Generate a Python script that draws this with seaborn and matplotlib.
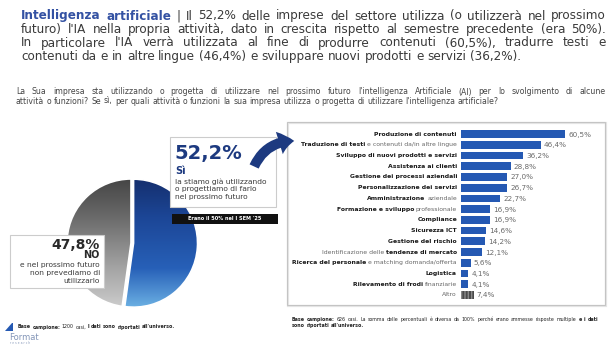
import numpy as np
import pandas as pd
import matplotlib
matplotlib.use("Agg")
import matplotlib.pyplot as plt
import seaborn as sns
from matplotlib.patches import Rectangle, FancyArrowPatch, Polygon
from matplotlib.colors import LinearSegmentedColormap

# ---------------- data ----------------
pie_labels = ["Sì", "No"]
pie_values = [52.2, 47.8]
pie_value_text = ["52,2%", "47,8%"]

bar_categories = [
    "Produzione di contenuti",
    "Traduzione di testi e contenuti da/in altre lingue",
    "Sviluppo di nuovi prodotti e servizi",
    "Assistenza ai clienti",
    "Gestione dei processi aziendali",
    "Personalizzazione dei servizi",
    "Amministrazione aziendale",
    "Formazione e sviluppo professionale",
    "Compliance",
    "Sicurezza ICT",
    "Gestione del rischio",
    "Identificazione delle tendenze di mercato",
    "Ricerca del personale e matching domanda/offerta",
    "Logistica",
    "Rilevamento di frodi finanziarie",
    "Altro",
]
bar_values = [60.5, 46.4, 36.2, 28.8, 27.0, 26.7, 22.7, 16.9, 16.9, 14.6, 14.2, 12.1, 5.6, 4.1, 4.1, 7.4]
bar_value_labels = ["60,5%", "46,4%", "36,2%", "28,8%", "27,0%", "26,7%", "22,7%", "16,9%",
                    "16,9%", "14,6%", "14,2%", "12,1%", "5,6%", "4,1%", "4,1%", "7,4%"]
# label parts: (text, bold)
bar_label_parts = [
    [("Produzione di contenuti", True)],
    [("Traduzione di testi", True), ("e contenuti da/in altre lingue", False)],
    [("Sviluppo di nuovi prodotti e servizi", True)],
    [("Assistenza ai clienti", True)],
    [("Gestione dei processi aziendali", True)],
    [("Personalizzazione dei servizi", True)],
    [("Amministrazione", True), ("aziendale", False)],
    [("Formazione e sviluppo", True), ("professionale", False)],
    [("Compliance", True)],
    [("Sicurezza ICT", True)],
    [("Gestione del rischio", True)],
    [("Identificazione delle", False), ("tendenze di mercato", True)],
    [("Ricerca del personale", True), ("e matching domanda/offerta", False)],
    [("Logistica", True)],
    [("Rilevamento di frodi", True), ("finanziarie", False)],
    [("Altro", False)],
]

BLUE = "#2559b3"
NAVY = "#1d3a80"
TXT = "#3a3a3a"

sns.set_theme(style="white")
plt.rcParams['font.family'] = ['DejaVu Sans']

W, H = 611, 346
fig = plt.figure(figsize=(W / 100, H / 100), dpi=100)
fig.patch.set_facecolor("white")
R = fig.canvas.get_renderer()


def px_axes(l, t, w, h, **kw):
    return fig.add_axes([l / W, 1 - (t + h) / H, w / W, h / H], **kw)


# ---------------- pie ----------------
cx, cy, rad = 131, 243, 64
half = rad * 1.1
axp = px_axes(cx - half, cy - half, 2 * half, 2 * half, zorder=2)
wedges, _ = axp.pie(pie_values, colors=[BLUE, "#777777"], startangle=90, counterclock=False,
                    explode=[0.04, 0.0], wedgeprops=dict(edgecolor="white", linewidth=1.2))
cmaps = [
    LinearSegmentedColormap.from_list("b", ["#122760", "#1c4696", "#2760b8", "#80c8f0"]),
    LinearSegmentedColormap.from_list("g", ["#383838", "#6a6a6a", "#a4a4a4", "#d8d8d8"]),
]
grad = np.linspace(0, 1, 256).reshape(-1, 1)
for w, cm in zip(wedges, cmaps):
    im = axp.imshow(grad, extent=[-1.2, 1.2, -1.2, 1.2], origin="upper", cmap=cm,
                    aspect="auto", zorder=1)
    im.set_clip_path(w)
    w.set_zorder(2)
    w.set_facecolor("none")
axp.set_aspect("equal")
axp.set_xlim(-1.1, 1.1)
axp.set_ylim(-1.1, 1.1)
axp.axis("off")

# ---------------- bars ----------------
row0, step = 134.0, 10.73
n = len(bar_values)
T = row0 - step / 2
Bh = step * n
bx0, bx1 = 461, 605
scale = 1.72
axb = px_axes(bx0, T, bx1 - bx0, Bh, zorder=3)
df = pd.DataFrame({"cat": bar_categories, "val": bar_values})
colors = [BLUE] * (n - 1) + ["#4a4a4a"]
sns.barplot(data=df, x="val", y="cat", hue="cat", palette=colors, legend=False,
            width=0.72, saturation=1, ax=axb, orient="h")
for i, p in enumerate(axb.patches):
    p.set_linewidth(0)
    if i == n - 1:
        p.set_hatch("|||||")
        p.set_edgecolor("#8a8a8a")
axb.set_xlim(0, (bx1 - bx0) / scale)
axb.set_ylim(n - 0.5, -0.5)
axb.axis("off")
for i, (v, lab) in enumerate(zip(bar_values, bar_value_labels)):
    axb.text(v + 1.8, i + 0.05, lab, va="center", ha="left", fontsize=5.2, color="#6a6a6a")

# ---------------- overlay ----------------
axo = fig.add_axes([0, 0, 1, 1], zorder=5)
axo.set_xlim(0, W)
axo.set_ylim(H, 0)
axo.axis("off")


def width_of(t):
    return t.get_window_extent(renderer=R).width


def toks(s, **kw):
    return [(w, kw) for w in s.split()]


def natural_width(tokens, fs, space_f=0.32):
    tot = 0
    for w, kw in tokens:
        t = axo.text(0, 0, w, fontsize=fs, **kw)
        tot += width_of(t)
        t.remove()
    return tot + (len(tokens) - 1) * fs * 100 / 72 * space_f


def place_line(tokens, x0, y, fs, x1=None, space_f=0.32, color=TXT):
    texts = []
    for w, kw in tokens:
        kw = dict(kw)
        kw.setdefault("color", color)
        t = axo.text(0, y, w, fontsize=fs, ha="left", va="center", **kw)
        texts.append(t)
    widths = [width_of(t) for t in texts]
    gap = fs * 100 / 72 * space_f
    if x1 is not None and len(texts) > 1:
        gap = (x1 - x0 - sum(widths)) / (len(texts) - 1)
    x = x0
    for t, wd in zip(texts, widths):
        t.set_x(x)
        x += wd + gap


# title
tx0, tx1 = 21, 606
l1 = toks("Intelligenza artificiale", color="#3452a3", fontweight="bold") + \
    toks("| Il 52,2% delle imprese del settore utilizza (o utilizzerà nel prossimo")
l2 = toks("futuro) l'IA nella propria attività, dato in crescita rispetto al semestre precedente (era 50%).")
l3 = toks("In particolare l'IA verrà utilizzata al fine di produrre contenuti (60,5%), tradurre testi e")
l4 = toks("contenuti da e in altre lingue (46,4%) e sviluppare nuovi prodotti e servizi (36,2%).")
tfs = 10 * 500 / natural_width(l4, 10)
place_line(l1, tx0, 16, tfs, tx1)
place_line(l2, tx0, 29.5, tfs, tx1)
place_line(l3, tx0, 43, tfs, tx1)
place_line(l4, tx0, 56.5, tfs, None)

# question
q1 = toks("La Sua impresa sta utilizzando o progetta di utilizzare nel prossimo futuro l'intelligenza "
          "Artificiale (AI) per lo svolgimento di alcune")
q2 = toks("attività o funzioni? Se sì, per quali attività o funzioni la sua impresa utilizza o progetta "
          "di utilizzare l'intelligenza artificiale?")
qfs = 10 * 480 / natural_width(q2, 10)
place_line(q1, 16, 92, qfs, 606, color="#454545")
place_line(q2, 16, 101, qfs, None, color="#454545")

# bar panel frame
axo.add_patch(Rectangle((288, 123), 318, 183, facecolor="none", edgecolor="#e6e6e6", linewidth=1.6))
axo.add_patch(Rectangle((287, 122), 318, 183, facecolor="none", edgecolor="#c4c4c4", linewidth=0.8))

# bar labels (right aligned, mixed bold)
lfs = 4.4
for i, parts in enumerate(bar_label_parts):
    y = row0 + i * step
    x = 457
    for txt, bold in reversed(parts):
        t = axo.text(x, y, txt, fontsize=lfs, ha="right", va="center",
                     fontweight="bold" if bold else "normal",
                     color="#1a1a1a" if bold else "#666666")
        x -= width_of(t) + lfs * 100 / 72 * 0.3

# right box (Sì)
axo.add_patch(Rectangle((170, 137), 106, 70, facecolor="white", edgecolor="#cccccc", linewidth=0.8))
axo.text(174, 153, pie_value_text[0], fontsize=14, fontweight="bold", color=NAVY, ha="left", va="center")
axo.text(175, 171, pie_labels[0], fontsize=7, fontweight="bold", color=NAVY, ha="left", va="center")
for k, s in enumerate(["la stiamo già utilizzando", "o progettiamo di farlo", "nel prossimo futuro"]):
    axo.text(175, 182 + k * 7.5, s, fontsize=5.4, color="#3a3a3a", ha="left", va="center")
axo.add_patch(Rectangle((172, 214), 106, 10, facecolor="#111111", edgecolor="none"))
axo.text(225, 219, "Erano il 50% nel I SEM '25", fontsize=3.6, fontweight="bold", color="white",
         ha="center", va="center")

# left box (No)
axo.add_patch(Rectangle((10, 235), 94, 53, facecolor="white", edgecolor="#cccccc", linewidth=0.8))
axo.text(100, 245, pie_value_text[1], fontsize=10, fontweight="bold", color="#2a2a2a", ha="right", va="center")
axo.text(100, 255.5, pie_labels[1].upper(), fontsize=7, fontweight="bold", color="#2a2a2a", ha="right", va="center")
for k, s in enumerate(["e nel prossimo futuro", "non prevediamo di", "utilizzarlo"]):
    axo.text(100, 265 + k * 8, s, fontsize=5.4, color="#3a3a3a", ha="right", va="center")

# curved arrow
arr = FancyArrowPatch((253, 169), (297, 141), connectionstyle="arc3,rad=-0.35",
                      arrowstyle="simple,head_length=0.9,head_width=1.4,tail_width=0.6",
                      mutation_scale=12, color=NAVY, linewidth=0)
axo.add_patch(arr)

# footnotes
ffs = 3.4
place_line(toks("Base campione:", fontweight="bold") + toks("1200 casi,") +
           toks("I dati sono riportati all'universo.", fontweight="bold"),
           18, 327, ffs, None, color="#222222")
place_line(toks("Base campione:", fontweight="bold") +
           toks("626 casi. La somma delle percentuali è diversa da 100% perché erano ammesse risposte multiple")
           + toks("e i dati", fontweight="bold"), 292, 319.5, ffs, 598, color="#222222")
place_line(toks("sono riportati all'universo.", fontweight="bold"), 292, 325.5, ffs, None, color="#222222")

# logo
axo.add_patch(Polygon([[5, 331], [12, 323], [13, 323], [13, 331]], closed=True, facecolor=BLUE, edgecolor="none"))
axo.text(9, 338, "Format", fontsize=6.0, color="#8496b8", ha="left", va="center")
axo.text(10, 343.5, "r e s e a r c h", fontsize=2.2, color="#8496b8", ha="left", va="center")

fig.savefig("out.png", dpi=100, facecolor="white")
